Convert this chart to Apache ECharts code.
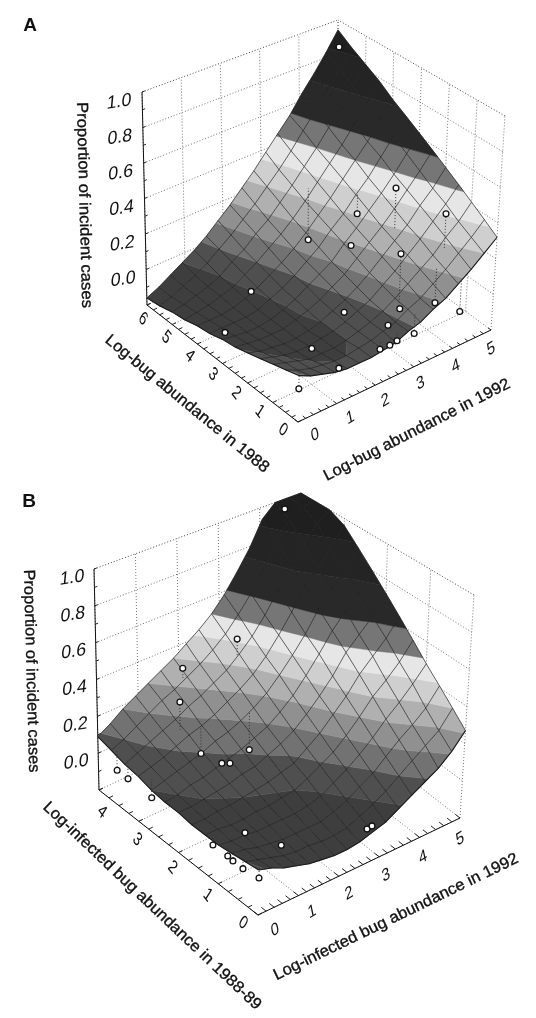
<!DOCTYPE html>
<html lang="en">
<head>
<meta charset="UTF-8">
<title>Proportion of incident cases</title>
<style>html,body{margin:0;background:#fff}#main{width:536px;height:1018px}</style>
</head>
<body>
<div id="main"></div>
<script src="https://cdn.jsdelivr.net/npm/echarts@6/dist/echarts.min.js"></script>
<script>
const zTicks = [0, 0.2, 0.4, 0.6, 0.8, 1.0];
const aTicksA = [0, 1, 2, 3, 4, 5, 6];
const aTicksB = [0, 1, 2, 3, 4];
const bTicks = [0, 1, 2, 3, 4, 5];

// rows: log abundance 1988 in 0.5 steps, columns: log abundance 1992 in 0.3125 steps
const surfaceA = [
    [.04,.01,-.01,-.03,-.04,-.04,-.04,-.03,-.02,.01,.03,.07,.10,.15,.20,.26,.32],
    [.02,-.01,-.03,-.04,-.05,-.05,-.04,-.03,-.01,.01,.05,.08,.13,.18,.24,.30,.37],
    [0,-.02,-.04,-.06,-.06,-.06,-.05,-.03,-.01,.02,.06,.11,.16,.21,.28,.34,.42],
    [-.02,-.04,-.06,-.07,-.07,-.06,-.05,-.03,0,.03,.08,.13,.19,.25,.32,.39,.47],
    [-.04,-.06,-.07,-.08,-.08,-.07,-.05,-.02,.01,.05,.10,.16,.22,.28,.36,.43,.52],
    [-.06,-.07,-.08,-.08,-.08,-.06,-.04,-.01,.03,.07,.13,.19,.25,.32,.40,.48,.57],
    [-.07,-.08,-.09,-.09,-.08,-.06,-.03,.01,.05,.09,.16,.22,.29,.36,.44,.53,.62],
    [-.09,-.09,-.09,-.09,-.08,-.05,-.02,.02,.07,.12,.19,.25,.33,.40,.49,.58,.67],
    [-.10,-.10,-.10,-.09,-.07,-.04,0,.04,.09,.15,.22,.29,.37,.45,.53,.63,.72],
    [-.12,-.11,-.10,-.08,-.06,-.02,.02,.07,.12,.18,.25,.33,.41,.49,.58,.68,.78],
    [-.13,-.12,-.10,-.08,-.05,0,.04,.10,.15,.22,.29,.37,.45,.54,.63,.73,.83],
    [-.15,-.13,-.10,-.07,-.03,.02,.07,.13,.19,.26,.33,.41,.50,.59,.68,.78,.88],
    [-.16,-.13,-.09,-.05,-.01,.04,.10,.16,.23,.30,.38,.46,.54,.64,.73,.83,.94]
];
// rows: log infected abundance 1988-89 in 1/3 steps, columns as above
const surfaceB = [
    [.03,.01,-.02,-.04,-.06,-.07,-.08,-.08,-.07,-.05,-.03,.01,.05,.09,.13,.19,.27],
    [.02,0,-.02,-.04,-.05,-.05,-.06,-.06,-.05,-.02,.01,.05,.10,.15,.20,.25,.34],
    [.01,0,-.02,-.03,-.04,-.04,-.04,-.04,-.02,.01,.05,.09,.15,.21,.26,.32,.41],
    [0,-.01,-.01,-.02,-.02,-.02,-.02,-.01,.01,.05,.09,.14,.20,.27,.33,.40,.48],
    [0,0,-.01,-.01,0,0,.01,.02,.05,.09,.13,.19,.26,.34,.40,.47,.56],
    [0,0,.01,.01,.02,.03,.04,.06,.08,.13,.18,.25,.32,.41,.48,.55,.64],
    [.01,.01,.02,.03,.04,.06,.07,.10,.13,.17,.23,.30,.38,.48,.55,.62,.72],
    [.01,.02,.04,.05,.07,.09,.11,.14,.17,.22,.28,.36,.45,.55,.63,.70,.80],
    [.02,.04,.06,.08,.10,.13,.15,.18,.22,.27,.34,.42,.51,.62,.70,.78,.88],
    [.04,.06,.08,.11,.14,.16,.19,.23,.27,.32,.39,.48,.58,.70,.78,.86,.96],
    [.05,.08,.11,.14,.17,.21,.24,.28,.32,.38,.45,.54,.65,.77,.86,.95,1],
    [.07,.10,.14,.18,.22,.25,.29,.33,.38,.44,.52,.61,.72,.85,.95,1,1],
    [.09,.13,.18,.22,.26,.30,.34,.39,.44,.50,.58,.68,.79,.93,1,1,1]
];

// observed cases
const casesA1988 = [5.78,2.17,3.48,.84,4.61,2.84,.72,1.72,.70,.72,0,.57,.26,1.37,.22,.24,.32,.14,.56,4.03,3.25];
const casesA1992 = [4.87,3.86,3.78,4.24,3.28,3.20,3.04,2.30,3.05,3.98,4.14,2.67,3.15,1.24,2.68,2.51,2.31,1.13,.38,1.42,.23];
const casesAProp = [.87,.49,.22,.44,0,.16,.34,-.01,.04,-.02,-.01,0,-.06,-.07,-.05,-.06,-.07,-.04,-.12,-.05,-.08];
const casesB1988 = [3.84,3.33,3.70,3.16,3.00,2.34,2.26,2.66,3.59,3.35,2.82,1.04,1.25,.89,.74,.45,.15,.56,.15,.13];
const casesB1992 = [4.44,2.76,1.80,1.19,1.54,1.40,1.52,2.39,.06,.09,.15,.69,.11,.12,.10,.06,.16,1.11,2.82,2.92];
const casesBProp = [.98,.47,.34,.30,.01,.08,.08,0,-.03,-.04,-.06,-.01,-.05,-.05,-.05,-.04,-.05,-.04,-.06,-.05];

const zMin = -0.2, zMax = 1.0;
const bandColors = ['#3e3e3e', '#4f4f4f', '#727272', '#909090', '#b0b0b0', '#cfcfcf', '#e6e6e6', '#767676', '#292929', '#242424', '#1f1f1f'];

const panelA = {
    aMax: 6, bMax: 5, surface: surfaceA, aTicks: aTicksA,
    cases: casesA1988.map(function (a, n) { return [a, casesA1992[n], casesAProp[n]]; }),
    levels: [-0.05, 0.02, 0.09, 0.17, 0.26, 0.35, 0.45, 0.55, 0.7, 0.85],
    front: [[298, 422], [302, 190]], left: [[147, 305], [142, 92]],
    right: [[491, 330], [505, 116]], back: [[339, 218], [338, 20]],
    zOff: [-23, 10], aOff: [[-15, 8], [-4, 14]], bOff: [[17, 13], [0, 19]],
    letter: {text: 'A', x: 30, y: 26},
    titles: [
        {text: 'Proportion of incident cases', x: 84, y: 205, angle: 88.5, len: 206},
        {text: 'Log-bug abundance in 1988', x: 187, y: 404, angle: 39.5, len: 207},
        {text: 'Log-bug abundance in 1992', x: 417, y: 430, angle: -27, len: 207}
    ]
};
const panelB = {
    aMax: 4, bMax: 5, surface: surfaceB, aTicks: aTicksB,
    cases: casesB1988.map(function (a, n) { return [a, casesB1992[n], casesBProp[n]]; }),
    levels: [0.02, 0.10, 0.18, 0.26, 0.34, 0.42, 0.5, 0.6, 0.75, 0.9],
    front: [[258, 915], [262, 680]], left: [[99, 790], [94, 569]],
    right: [[460, 818], [474, 595]], back: [[302, 695], [301, 493]],
    zOff: [-22, 9], aOff: [[-15, 8], [3, 22]], bOff: [[17, 15], [0, 21]],
    letter: {text: 'B', x: 29, y: 502},
    titles: [
        {text: 'Proportion of incident cases', x: 31, y: 671, angle: 88.5, len: 203},
        {text: 'Log-infected bug abundance in 1988-89', x: 152, y: 906, angle: 43.5, len: 294},
        {text: 'Log-infected bug abundance in 1992', x: 396, y: 917, angle: -26, len: 270}
    ]
};

function project(p, a, b, z) {
    let u = a / p.aMax, v = b / p.bMax, w = (z - zMin) / (zMax - zMin);
    let out = [];
    for (let k = 0; k < 2; k++) {
        let floor = (1 - u) * (1 - v) * p.front[0][k] + (1 - u) * v * p.right[0][k] + u * (1 - v) * p.left[0][k] + u * v * p.back[0][k];
        let top = (1 - u) * (1 - v) * p.front[1][k] + (1 - u) * v * p.right[1][k] + u * (1 - v) * p.left[1][k] + u * v * p.back[1][k];
        out.push(floor + (top - floor) * w);
    }
    return out;
}

function surfaceAt(p, a, b) {
    let rows = p.surface.length - 1, cols = p.surface[0].length - 1;
    let r = Math.min(Math.max(a / p.aMax * rows, 0), rows), c = Math.min(Math.max(b / p.bMax * cols, 0), cols);
    let i = Math.min(Math.floor(r), rows - 1), j = Math.min(Math.floor(c), cols - 1);
    let s = r - i, t = c - j;
    return (1 - s) * (1 - t) * p.surface[i][j] + (1 - s) * t * p.surface[i][j + 1] + s * (1 - t) * p.surface[i + 1][j] + s * t * p.surface[i + 1][j + 1];
}

function clipBand(poly, level, keepAbove) {
    let out = [];
    for (let n = 0; n < poly.length; n++) {
        let s = poly[n], e = poly[(n + 1) % poly.length];
        let sIn = keepAbove ? s[2] >= level : s[2] <= level;
        let eIn = keepAbove ? e[2] >= level : e[2] <= level;
        if (sIn) out.push(s);
        if (sIn !== eIn) {
            let t = (level - s[2]) / (e[2] - s[2]);
            out.push([s[0] + (e[0] - s[0]) * t, s[1] + (e[1] - s[1]) * t, level]);
        }
    }
    return out;
}

let measureCtx = document.createElement('canvas').getContext('2d');

// angle is clockwise on screen, in degrees
function textEl(text, x, y, angle, font, extra) {
    return Object.assign({
        type: 'text', x: x, y: y, rotation: -angle * Math.PI / 180,
        style: {text: text, font: font, fill: '#111', align: 'center', verticalAlign: 'middle'}
    }, extra || {});
}

function panelSeries(p) {
    let base = {type: 'custom', coordinateSystem: 'cartesian2d', silent: true, clip: false};
    let aStep = p.aMax / (p.surface.length - 1), bStep = p.bMax / (p.surface[0].length - 1);

    // frame: [a1, b1, z1, a2, b2, z2, kind]
    let segs = [];
    p.aTicks.forEach(function (a) {
        segs.push([a, 0, zMin, a, p.bMax, zMin, 0]);
        segs.push([a, p.bMax, zMin, a, p.bMax, zMax, 0]);
    });
    bTicks.forEach(function (b) {
        segs.push([0, b, zMin, p.aMax, b, zMin, 0]);
        segs.push([p.aMax, b, zMin, p.aMax, b, zMax, 0]);
    });
    zTicks.forEach(function (z) {
        let kind = z === 1 ? 1 : 0;
        segs.push([p.aMax, 0, z, p.aMax, p.bMax, z, kind]);
        segs.push([0, p.bMax, z, p.aMax, p.bMax, z, kind]);
    });
    segs.push([p.aMax, 0, zMin, p.aMax, 0, zMax, 2]);
    segs.push([0, 0, zMin, p.aMax, 0, zMin, 2]);
    segs.push([0, 0, zMin, 0, p.bMax, zMin, 2]);
    for (let a = 0; a <= p.aMax; a += .25) segs.push([a, 0, zMin, a, .1, zMin, 3]);
    for (let b = 0; b <= p.bMax + .001; b += .2) segs.push([0, b, zMin, .12, b, zMin, 3]);
    for (let z = zMin; z <= zMax + .001; z += .1) segs.push([p.aMax, 0, z, p.aMax, .07, z, 3]);

    let segStyles = [
        {stroke: '#777', lineWidth: 1, lineDash: [1, 2]},
        {stroke: '#444', lineWidth: 1, lineDash: [1, 2]},
        {stroke: '#111', lineWidth: 1},
        {stroke: '#222', lineWidth: 1}
    ];

    let frame = Object.assign({}, base, {
        data: segs,
        renderItem: function (params, api) {
            let s = project(p, api.value(0), api.value(1), api.value(2));
            let e = project(p, api.value(3), api.value(4), api.value(5));
            s = api.coord(s);
            e = api.coord(e);
            return {type: 'line', shape: {x1: s[0], y1: s[1], x2: e[0], y2: e[1]}, style: segStyles[api.value(6)]};
        }
    });

    // surface cells, back to front
    let cells = [];
    for (let i = p.surface.length - 2; i >= 0; i--) {
        for (let j = p.surface[0].length - 2; j >= 0; j--) {
            cells.push([i, j]);
        }
    }
    let fill = Object.assign({}, base, {
        data: cells,
        renderItem: function (params, api) {
            let i = api.value(0), j = api.value(1);
            let corners = [[i, j], [i + 1, j], [i + 1, j + 1], [i, j + 1]].map(function (c) {
                let z = p.surface[c[0]][c[1]];
                let xy = api.coord(project(p, c[0] * aStep, c[1] * bStep, z));
                return [xy[0], xy[1], z];
            });
            let children = [];
            bandColors.forEach(function (color, n) {
                let poly = corners;
                if (n > 0) poly = clipBand(poly, p.levels[n - 1], true);
                if (poly.length && n < p.levels.length) poly = clipBand(poly, p.levels[n], false);
                if (poly.length > 2) {
                    children.push({
                        type: 'polygon',
                        shape: {points: poly.map(function (v) { return [v[0], v[1]]; })},
                        style: {fill: color, stroke: color, lineWidth: .5}
                    });
                }
            });
            return {type: 'group', children: children};
        }
    });

    // mesh: [0, index] is a row of constant a, [1, index] a column of constant b
    let meshLines = [];
    p.surface.forEach(function (r, i) { meshLines.push([0, i]); });
    p.surface[0].forEach(function (c, j) { meshLines.push([1, j]); });
    let mesh = Object.assign({}, base, {
        data: meshLines,
        renderItem: function (params, api) {
            let dir = api.value(0), k = api.value(1), pts = [];
            if (dir === 0) {
                p.surface[k].forEach(function (z, j) { pts.push(api.coord(project(p, k * aStep, j * bStep, z))); });
            } else {
                p.surface.forEach(function (row, i) { pts.push(api.coord(project(p, i * aStep, k * bStep, row[k]))); });
            }
            let edge = k === 0;
            return {type: 'polyline', shape: {points: pts}, style: {fill: 'none', stroke: edge ? '#1a1a1a' : 'rgba(30,30,30,.75)', lineWidth: edge ? 1.1 : .9}};
        }
    });

    let drops = Object.assign({}, base, {
        data: p.cases,
        renderItem: function (params, api) {
            let a = api.value(0), b = api.value(1), z = api.value(2);
            let s = api.coord(project(p, a, b, z));
            let e = api.coord(project(p, a, b, surfaceAt(p, a, b)));
            return {type: 'line', shape: {x1: s[0], y1: s[1], x2: e[0], y2: e[1]}, style: {stroke: '#333', lineWidth: 1, lineDash: [1, 2]}};
        }
    });

    let dots = Object.assign({}, base, {
        data: p.cases,
        renderItem: function (params, api) {
            let c = api.coord(project(p, api.value(0), api.value(1), api.value(2)));
            return {type: 'circle', shape: {cx: c[0], cy: c[1], r: 2.9}, style: {fill: '#fff', stroke: '#111', lineWidth: 1.3}};
        }
    });

    // tick labels and titles
    let labels = [];
    zTicks.forEach(function (z) { labels.push(['z', z]); });
    p.aTicks.forEach(function (a) { labels.push(['a', a]); });
    bTicks.forEach(function (b) { labels.push(['b', b]); });
    let labelSeries = Object.assign({}, base, {
        data: labels.map(function (l, n) { return [n]; }),
        renderItem: function (params, api) {
            let l = labels[api.value(0)], xy, off, t;
            if (l[0] === 'z') {
                xy = project(p, p.aMax, 0, l[1]);
                return textEl(l[1].toFixed(1), xy[0] + p.zOff[0], xy[1] + p.zOff[1], -9, '18px "Liberation Sans"', {skewX: -0.25});
            }
            if (l[0] === 'a') {
                xy = project(p, l[1], 0, zMin);
                t = l[1] / p.aMax;
                off = [p.aOff[0][0] + (p.aOff[1][0] - p.aOff[0][0]) * t, p.aOff[0][1] + (p.aOff[1][1] - p.aOff[0][1]) * t];
                return textEl(String(l[1]), xy[0] + off[0], xy[1] + off[1], 52, '16px "Liberation Sans"', {skewX: 0.35});
            }
            xy = project(p, 0, l[1], zMin);
            t = l[1] / p.bMax;
            off = [p.bOff[0][0] + (p.bOff[1][0] - p.bOff[0][0]) * t, p.bOff[0][1] + (p.bOff[1][1] - p.bOff[0][1]) * t];
            return textEl(String(l[1]), xy[0] + off[0], xy[1] + off[1], -32, '16px "Liberation Sans"', {skewX: -0.35});
        }
    });
    let titleSeries = Object.assign({}, base, {
        data: p.titles.map(function (l, n) { return [n]; }),
        renderItem: function (params, api) {
            let l = p.titles[api.value(0)], font = '16px "Liberation Sans"';
            measureCtx.font = font;
            let stretch = l.len / measureCtx.measureText(l.text).width;
            return textEl(l.text, l.x, l.y, l.angle, font, {scaleX: stretch, style: {text: l.text, font: font, fill: '#111', align: 'center', verticalAlign: 'middle', stroke: '#111', lineWidth: .35}});
        }
    });
    let letterSeries = Object.assign({}, base, {
        data: [[0]],
        renderItem: function () {
            return textEl(p.letter.text, p.letter.x, p.letter.y, 0, 'bold 19px "Liberation Sans"');
        }
    });

    return [frame, fill, mesh, drops, dots, labelSeries, titleSeries, letterSeries];
}

let chart = echarts.init(document.getElementById('main'));
chart.setOption({
    animation: false,
    backgroundColor: '#fff',
    grid: {left: 0, right: 0, top: 0, bottom: 0},
    xAxis: {type: 'value', min: 0, max: 536, show: false},
    yAxis: {type: 'value', min: 0, max: 1018, inverse: true, show: false},
    series: panelSeries(panelA).concat(panelSeries(panelB))
});
</script>
</body>
</html>
